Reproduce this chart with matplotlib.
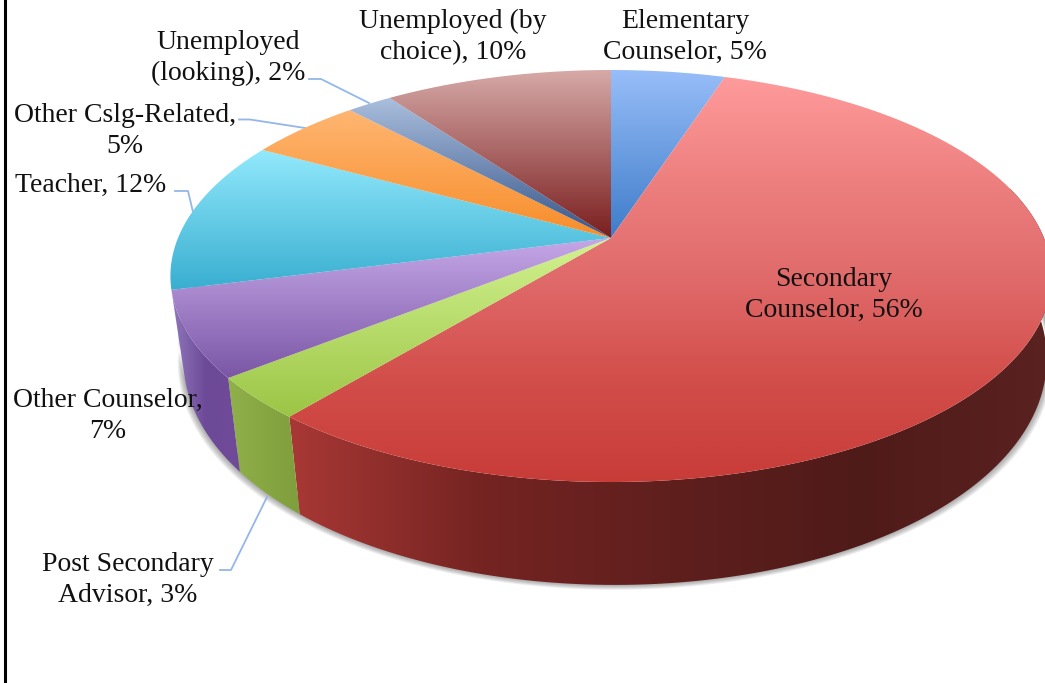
import numpy as np
import matplotlib
matplotlib.use('Agg')
import matplotlib.pyplot as plt
from matplotlib.colors import LinearSegmentedColormap
from matplotlib.patches import Polygon

# Sample data
categories = ['Elementary Counselor', 'Secondary Counselor', 'Post Secondary Advisor',
              'Other Counselor', 'Teacher', 'Other Cslg-Related',
              'Unemployed (looking)', 'Unemployed (by choice)']
values = [5, 56, 3.3, 6.7, 12, 5, 2, 10]
labels = ['Elementary\nCounselor, 5%', 'Secondary\nCounselor, 56%', 'Post Secondary\nAdvisor, 3%',
          'Other Counselor,\n7%', 'Teacher, 12%', 'Other Cslg-Related,\n5%',
          'Unemployed\n(looking), 2%', 'Unemployed (by\nchoice), 10%']

# Styles, same order as the data
top_colors = [
    ['#98bef9', '#3e7cc9'],
    ['#ff9b9b', '#ee8080', '#e06a6a', '#d24e4a', '#c83c38'],
    ['#d2f290', '#9cc545'],
    ['#c6a8e8', '#7a56a5'],
    ['#92e9fc', '#38aed0'],
    ['#ffb672', '#f78d2a'],
    ['#abbfdd', '#35558a'],
    ['#d6aaa8', '#7a1e1e'],
]
side_colors = [
    None,
    ['#a83835', '#752422', '#5f1f1d', '#4f1b19', '#5a2220'],
    ['#8fb04a', '#7f9e3c'],
    ['#9078bc', '#6d4a98', '#6f4a98'],
    None,
    None,
    None,
    None,
]
label_pos = [(685, 37), (834, 295), (128, 580), (108, 416), (91, 185), (125, 131), (228, 58), (453, 37)]
leaders = {
    'Post Secondary Advisor': [(220, 570), (231, 570), (267, 497)],
    'Teacher': [(175, 191), (188, 191), (193, 212)],
    'Other Cslg-Related': [(239, 119.5), (250, 119.5), (305, 128)],
    'Unemployed (looking)': [(309, 79), (321, 79), (369, 103)],
}

# Pie geometry in pixels
cx, cy = 611, 238
rx, ry, persp = 433, 199, 0.1845


def top_xy(theta):
    # theta clockwise from 12 o'clock, radians
    u, v = np.sin(theta), -np.cos(theta)
    d = 1 - persp * v
    return cx + rx * u / d, cy + ry * v / d


def bottom_xy(theta):
    x, y = top_xy(theta)
    v = -np.cos(theta)
    return cx + (x - cx) * 0.98 + 4, cy + (y - cy) * 0.975 + 78 + 31 * v


def gradient(ax, poly_xy, colors, vertical=True):
    xs, ys = poly_xy[:, 0], poly_xy[:, 1]
    cmap = LinearSegmentedColormap.from_list('g', colors)
    grad = np.linspace(0, 1, 256)
    grad = grad[:, None] if vertical else grad[None, :]
    im = ax.imshow(grad, cmap=cmap, aspect='auto', interpolation='bilinear',
                   extent=(xs.min(), xs.max(), ys.max(), ys.min()), zorder=3)
    patch = Polygon(poly_xy, closed=True, transform=ax.transData, fill=False, edgecolor='none')
    ax.add_patch(patch)
    im.set_clip_path(patch)


fig = plt.figure(figsize=(10.45, 6.83), dpi=100)
ax = fig.add_axes([0, 0, 1, 1])

edges = np.cumsum([0] + values) / sum(values) * 2 * np.pi

# Soft shadow under the pie
t = np.linspace(np.radians(75), np.radians(285), 300)
bx, by = bottom_xy(t)
for i in range(7, 0, -1):
    sx = cx + (bx - cx) * (1 + 0.0018 * i)
    sy = by + 0.7 * i
    ax.fill(np.r_[sx, sx[::-1]], np.r_[sy, by[::-1] - 20], color='#404040', alpha=0.07, lw=0, zorder=2)

# Sides first, the tops go over them
for i in range(len(values)):
    if side_colors[i] is None:
        continue
    a0, a1 = max(edges[i], np.radians(75)), min(edges[i + 1], np.radians(285))
    t = np.linspace(a0, a1, 200)
    tx, ty = top_xy(t)
    bx, by = bottom_xy(t)
    poly = np.c_[np.r_[tx, bx[::-1]], np.r_[ty, by[::-1]]]
    gradient(ax, poly, side_colors[i], vertical=False)

# Top faces
for i in range(len(values)):
    t = np.linspace(edges[i], edges[i + 1], 200)
    tx, ty = top_xy(t)
    poly = np.c_[np.r_[cx, tx], np.r_[cy, ty]]
    gradient(ax, poly, top_colors[i])

# Leader lines
for name, pts in leaders.items():
    px, py = zip(*pts)
    ax.plot(px, py, color='#93b7e8', lw=1.3, zorder=2.5, solid_joinstyle='round')

# Labels
for lab, (x, y) in zip(labels, label_pos):
    ax.text(x, y, lab, ha='center', va='center', fontsize=20, family='Liberation Serif',
            color='#111111', linespacing=1.28, zorder=5)

# Frame line on the left
ax.plot([5, 5], [0, 683], color='black', lw=2.2, zorder=6)

ax.set_xlim(0, 1045)
ax.set_ylim(683, 0)
ax.axis('off')

plt.savefig('out.png', dpi=100)
